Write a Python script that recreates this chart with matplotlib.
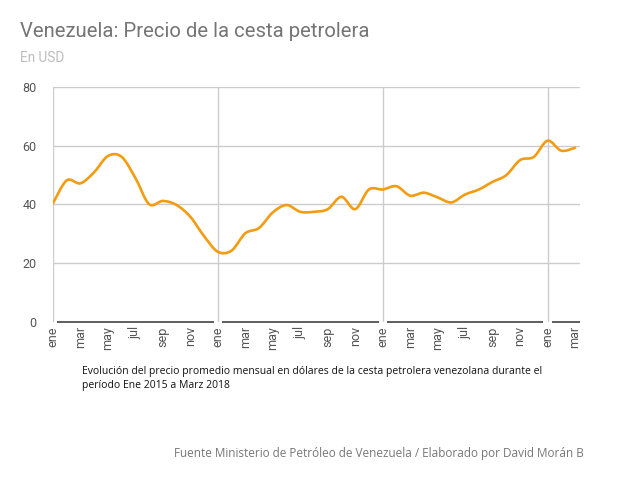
import matplotlib.pyplot as plt
import numpy as np
from matplotlib.path import Path
from matplotlib.patches import PathPatch

# precio mensual de la cesta venezolana, ene 2015 - mar 2018 (USD)
precios = [40.4, 48.2, 47.2, 51.0, 56.5, 56.2, 49.0, 40.1, 41.2, 39.8, 35.8, 29.2,
           23.9, 24.3, 30.2, 32.0, 37.3, 39.8, 37.5, 37.5, 38.4, 42.6, 38.4, 45.1,
           45.1, 46.2, 43.0, 44.0, 42.4, 40.7, 43.4, 45.1, 47.7, 50.0, 55.1, 56.2,
           61.7, 58.3, 59.3]
meses = ["ene", "feb", "mar", "abr", "may", "jun", "jul", "ago", "sep", "oct", "nov", "dic"]
etiquetas = [meses[i % 12] for i in range(len(precios))]
y_ticks = [0, 20, 40, 60, 80]

fig = plt.figure(figsize=(6.3, 4.82), dpi=100)
ax = fig.add_axes([0.0841, 0.332, 0.8365, 0.4876])

x = np.arange(len(precios))
y = np.array(precios)

# curva suave tipo Catmull-Rom a traves de los puntos
verts = [(x[0], y[0])]
codes = [Path.MOVETO]
t = 0.5 / 3
for i in range(len(x) - 1):
    p0 = (x[max(i - 1, 0)], y[max(i - 1, 0)])
    p1 = (x[i], y[i])
    p2 = (x[i + 1], y[i + 1])
    p3 = (x[min(i + 2, len(x) - 1)], y[min(i + 2, len(x) - 1)])
    c1 = (p1[0] + (p2[0] - p0[0]) * t, p1[1] + (p2[1] - p0[1]) * t)
    c2 = (p2[0] - (p3[0] - p1[0]) * t, p2[1] - (p3[1] - p1[1]) * t)
    verts += [c1, c2, p2]
    codes += [Path.CURVE4] * 3
ax.add_patch(PathPatch(Path(verts, codes), facecolor="none", edgecolor="#f39c12",
                       lw=1.9, zorder=3, capstyle="round"))

ax.set_xlim(0, 38.36)
ax.set_ylim(0, 80)
for s in ax.spines.values():
    s.set_visible(False)

for v in y_ticks[1:]:
    ax.axhline(v, color="#cccccc", lw=1, zorder=1)
for v in [0, 12, 24, 36]:
    ax.axvline(v, color="#cccccc", lw=1, zorder=1)
# linea base con huecos en las lineas verticales
bordes = [0, 12, 24, 36, 38.36]
for a, b in zip(bordes[:-1], bordes[1:]):
    ax.hlines(0, a + 0.3, b - (0.3 if b < 38 else 0), color="#333333", lw=1.1,
              zorder=2, clip_on=False)

ax.set_yticks(y_ticks)
ax.set_yticklabels([str(v) for v in y_ticks], fontsize=9, color="#555555",
                   family="Roboto")
ax.set_xticks(x[::2])
ax.set_xticklabels(etiquetas[::2], rotation=90, fontsize=9, color="#555555",
                   family="Roboto")
ax.tick_params(axis="x", length=0, pad=3)
ax.tick_params(axis="y", length=0, pad=12)

fig.text(0.032, 0.935, "Venezuela: Precio de la cesta petrolera", fontsize=14.6,
         color="#757575", family="Roboto", va="center")
fig.text(0.032, 0.88, "En USD", fontsize=9.8, color="#bdbdbd", family="Roboto",
         va="center")
fig.text(0.13, 0.215, "Evolución del precio promedio mensual en dólares de la cesta "
         "petrolera venezolana durante el\nperíodo Ene 2015 a Marz 2018",
         fontsize=7.5, color="#111111", family="Open Sans", va="center",
         linespacing=1.35)
fig.text(0.927, 0.06, "Fuente Ministerio de Petróleo de Venezuela / Elaborado por David Morán B",
         fontsize=8.5, color="#777777", family="Open Sans", ha="right", va="center")

fig.savefig("out.png", dpi=100)
